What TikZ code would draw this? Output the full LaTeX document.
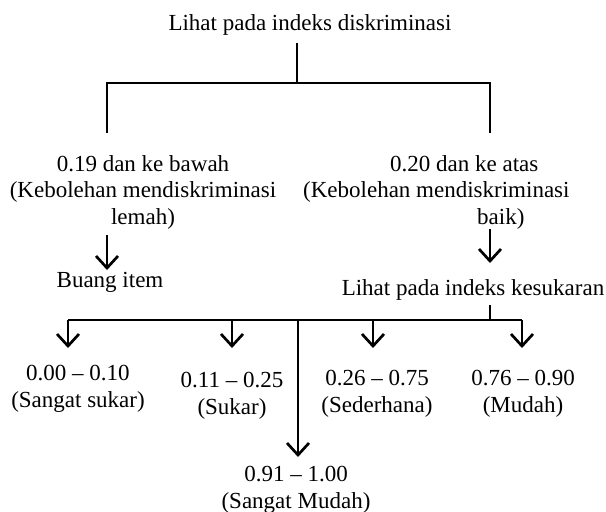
\documentclass[tikz,border=0pt]{standalone}
\usepackage{fontspec}
\setmainfont{Liberation Serif}
\usetikzlibrary{arrows.meta, calc}
\tikzset{
    my-text/.style={
        font=\fontsize{23}{26.5}\selectfont, inner sep=0pt, align=center
    },
    my-wire/.style={
        line width=2.7pt
    },
    my-arrow/.style={
        line width=2.7pt, -{Straight Barb[length=12pt, width=22pt, line width=2.7pt]}
    },
}

\begin{document}
\begin{tikzpicture}[x=1pt, y=-1pt]
        \useasboundingbox (0,0) rectangle (606,512);

        % TOP LABEL AND SPLIT
        \node[my-text]  (TITLE)    at (310,25)                   {Lihat pada indeks diskriminasi};
        \coordinate     (TITLEOUT) at (297,43);
        \coordinate     (SPLIT)    at ($(TITLEOUT) + (0,40)$);
        \coordinate     (SPLITL)   at (107,83);
        \coordinate     (SPLITR)   at (490,83);
        \coordinate     (LOWIN)    at ($(SPLITL) + (0,50)$);
        \coordinate     (HIGHIN)   at ($(SPLITR) + (0,50)$);
        \draw[my-wire] (TITLEOUT) -- (SPLIT);
        \draw[my-wire] (LOWIN) -- (SPLITL) -- (SPLITR) -- (HIGHIN);

        % BRANCH LABELS
        \node[my-text] (LOW)  at (143,192) {0.19 dan ke bawah\\(Kebolehan mendiskriminasi\\lemah)};
        \node[my-text, anchor=west, align=left] (HIGH) at (303,192)
            {\hspace*{87pt}0.20 dan ke atas\\(Kebolehan mendiskriminasi\\\hspace*{174pt}baik)};

        % LOW BRANCH
        \coordinate     (LOWOUT)  at (107,235);
        \coordinate     (BUANGIN) at ($(LOWOUT) + (0,35)$);
        \node[my-text]  (BUANG)   at (110,282) {Buang item};
        \draw[my-arrow] (LOWOUT) -- (BUANGIN);

        % HIGH BRANCH
        \coordinate     (HIGHOUT) at (490,229);
        \coordinate     (KESIN)   at ($(HIGHOUT) + (0,34)$);
        \node[my-text]  (KES)     at (473,290) {Lihat pada indeks kesukaran};
        \draw[my-arrow] (HIGHOUT) -- (KESIN);

        % BUS
        \coordinate     (KESOUT)  at (490,305);
        \coordinate     (BUS)     at ($(KESOUT) + (0,15)$);
        \coordinate     (BUSL)    at (68,320);
        \coordinate     (BUSR)    at (522,320);
        \draw[my-wire] (KESOUT) -- (BUS);
        \draw[my-wire] (BUSL) -- (BUSR);

        % OUTPUT ARROWS
        \coordinate     (BUS1)    at (68,320);
        \coordinate     (BUS2)    at (232,320);
        \coordinate     (BUS3)    at (298,320);
        \coordinate     (BUS4)    at (373,320);
        \coordinate     (BUS5)    at (522,320);
        \coordinate     (OUT1)    at ($(BUS1) + (0,28)$);
        \coordinate     (OUT2)    at ($(BUS2) + (0,28)$);
        \coordinate     (OUT3)    at ($(BUS3) + (0,137)$);
        \coordinate     (OUT4)    at ($(BUS4) + (0,28)$);
        \coordinate     (OUT5)    at ($(BUS5) + (0,28)$);
        \draw[my-arrow] (BUS1) -- (OUT1);
        \draw[my-arrow] (BUS2) -- (OUT2);
        \draw[my-arrow] (BUS3) -- (OUT3);
        \draw[my-arrow] (BUS4) -- (OUT4);
        \draw[my-arrow] (BUS5) -- (OUT5);

        % OUTPUT LABELS
        \node[my-text] (SSUKAR) at (78,389)  {0.00 -- 0.10\\(Sangat sukar)};
        \node[my-text] (SUKAR)  at (232,396) {0.11 -- 0.25\\(Sukar)};
        \node[my-text] (SEDER)  at (377,394) {0.26 -- 0.75\\(Sederhana)};
        \node[my-text] (MUDAH)  at (523,394) {0.76 -- 0.90\\(Mudah)};
        \node[my-text] (SMUDAH) at (296,490) {0.91 -- 1.00\\(Sangat Mudah)};

\end{tikzpicture}
\end{document}
